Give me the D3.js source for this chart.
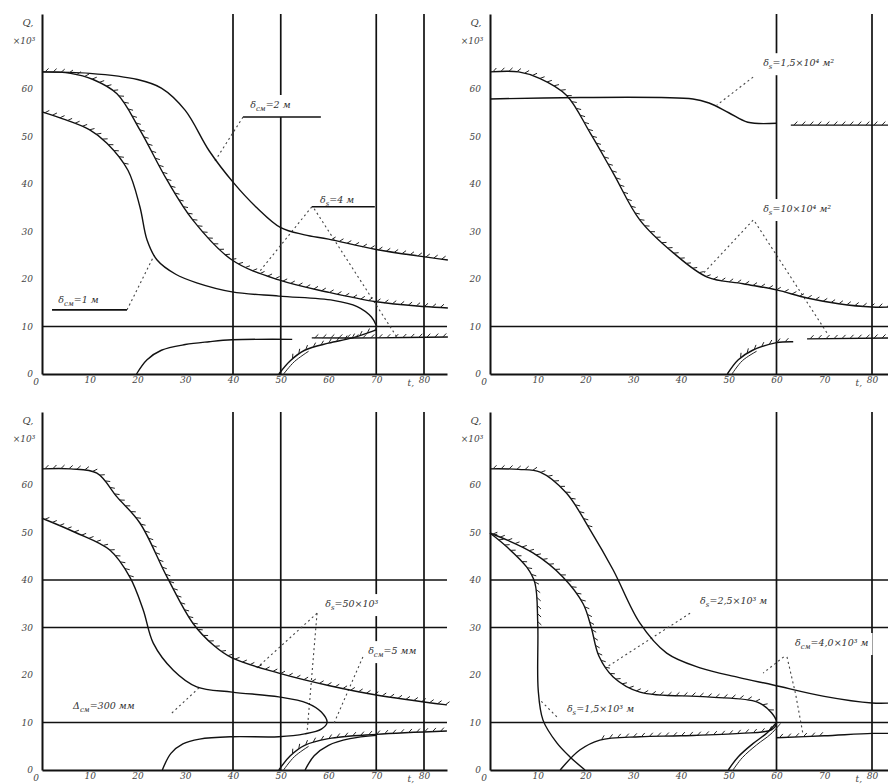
<!DOCTYPE html>
<html>
<head>
<meta charset="utf-8">
<script src="https://cdn.jsdelivr.net/npm/d3@7"></script>
<style>
  body { margin: 0; background: #fff; }
  svg { display: block; }
  text { font-family: "DejaVu Serif", serif; font-style: italic; fill: #333; }
</style>
</head>
<body>
<svg id="chart"></svg>
<script>
const width = 888;
const height = 784;

// tick labels (shared by all four panels)
const xTickLabels = ["0", "10", "20", "30", "40", "50", "60", "70", "80"];
const yTickLabels = ["0", "10", "20", "30", "40", "50", "60"];

// panel 1 (top left)
const p1A = [[0,6.36],[1,6.33],[2,6.2],[2.5,6.02],[3,5.55],[3.5,4.7],[4,4.04],[4.5,3.5],[5,3.08],[5.5,2.93],[6,2.84],[7,2.62],[8.5,2.4]];
const p1B = [[0,6.36],[0.6,6.33],[1.07,6.2],[1.57,5.9],[2.05,5.14],[2.62,4.08],[3.16,3.24],[3.98,2.4],[4.96,1.98],[6,1.72],[7,1.52],[8,1.42],[8.5,1.39]];
const p1C = [[0,5.52],[0.5,5.35],[1,5.14],[1.36,4.86],[1.8,4.29],[2.05,3.52],[2.2,2.82],[2.41,2.4],[2.8,2.1],[3.24,1.92],[3.98,1.73],[4.96,1.64],[6.1,1.55],[6.6,1.42],[6.9,1.2],[7,1.02]];
const p1D = [[1.98,0],[2.2,0.3],[2.5,0.5],[3,0.62],[3.5,0.68],[3.98,0.72],[5.24,0.73]];
const p1E = [[4.96,0],[5.2,0.28],[5.5,0.5],[6,0.65],[6.5,0.76],[7,0.93]];
const p1F = [[5.65,0.76],[7,0.76],[8.5,0.78]];

// panel 2 (top right)
const p2G = [[0,6.36],[0.6,6.36],[1.05,6.22],[1.6,5.87],[2.1,5.07],[2.58,4.23],[3.14,3.24],[3.84,2.55],[4.55,2.04],[5.3,1.9],[6,1.77],[6.64,1.6],[7.3,1.48],[8,1.41],[8.4,1.41]];
const p2H = [[0,5.79],[4.25,5.79],[4.6,5.7],[5,5.5],[5.4,5.3],[6,5.28]];
const p2H2 = [[6.3,5.24],[8.4,5.24]];
const p2I = [[4.97,0],[5.2,0.3],[5.5,0.5],[6,0.66],[6.35,0.68]];
const p2I2 = [[6.64,0.74],[8.4,0.76]];

// panel 3 (bottom left)
const p3J = [[0,6.34],[0.6,6.34],[1.15,6.25],[1.57,5.75],[2.05,5.2],[2.62,4.06],[3.16,3.09],[3.6,2.62],[3.98,2.36],[4.96,2.04],[6,1.78],[7,1.58],[8.48,1.37]];
const p3K = [[0,5.3],[0.7,5.0],[1.42,4.63],[1.84,4.06],[2.12,3.37],[2.33,2.67],[2.75,2.1],[3.24,1.75],[3.98,1.64],[4.96,1.54],[5.55,1.41],[5.85,1.22],[5.97,1.0],[5.85,0.86],[5.5,0.76],[4.96,0.7],[3.98,0.7],[3.3,0.65],[2.95,0.55],[2.7,0.35],[2.52,0]];
const p3M = [[4.96,0],[5.2,0.3],[5.5,0.52],[6,0.66],[7,0.75],[8.48,0.82]];
const p3N = [[5.51,0],[5.7,0.3],[6,0.52],[6.45,0.66],[7,0.73]];

// panel 4 (bottom right)
const p4P = [[0,6.34],[0.6,6.33],[1.05,6.27],[1.6,5.83],[2.1,5.05],[2.58,4.21],[3.14,3.09],[3.7,2.46],[4.4,2.15],[5.2,1.95],[5.93,1.79],[7,1.55],[8,1.41],[8.4,1.41]];
const p4Q = [[0,4.99],[0.9,4.57],[1.53,4.06],[1.95,3.5],[2.12,3.0],[2.28,2.4],[2.58,1.96],[3.14,1.64],[4.55,1.54],[5.6,1.43],[5.9,1.2],[6,1.0],[5.9,0.85],[5.24,0.77],[4,0.72],[3.14,0.7],[2.3,0.63],[1.88,0.42],[1.47,0]];
const p4S = [[0,4.99],[0.35,4.7],[0.77,4.27],[0.94,3.94],[1.0,3.09],[1.01,1.68],[1.11,1.05],[1.4,0.57],[1.67,0.28],[1.99,0]];
const p4T = [[4.99,0],[5.2,0.28],[5.5,0.55],[5.8,0.78],[6,1.0]];
const p4U = [[6,0.68],[7,0.72],[8,0.77],[8.4,0.77]];

const stepX = 47.75, stepY = 47.5;

// hatch: [fromIndex, toIndex, side]
const panels = [
  { ox: 42, oy: 374, top: 14, right: 447, vLines: [4, 5, 7, 8], hLines: [1],
    curves: [
      { pts: p1A, hatch: [[10, 12, 1]] },
      { pts: p1B, hatch: [[0, 12, 1]] },
      { pts: p1C, hatch: [[0, 4, 1]] },
      { pts: p1D },
      { pts: p1E, hatch: [[1, 5, 1]], double: 2 },
      { pts: p1F, hatch: [[0, 2, 1]] }
    ],
    notes: [
      { t: ["δ", "см", "=2 м"], at: [4.36, 5.6], under: [4.21, 5.84, 5.41], leaders: [[[4.21, 5.41], [3.6, 4.45]]] },
      { t: ["δ", "s", "=4 м"], at: [5.82, 3.6], under: [5.65, 6.97, 3.52], leaders: [[[5.65, 3.52], [4.55, 2.15]], [[5.7, 3.48], [7.43, 0.78]]] },
      { t: ["δ", "см", "=1 м"], at: [0.34, 1.49], under: [0.21, 1.78, 1.35], leaders: [[[1.78, 1.35], [2.35, 2.5]]] }
    ] },
  { ox: 490, oy: 374, top: 14, right: 888, vLines: [6, 8], hLines: [1],
    curves: [
      { pts: p2G, hatch: [[0, 14, 1]] },
      { pts: p2H },
      { pts: p2H2, hatch: [[0, 1, 1]] },
      { pts: p2I, hatch: [[1, 4, 1]], double: 2 },
      { pts: p2I2, hatch: [[0, 1, 1]] }
    ],
    notes: [
      { t: ["δ", "s", "=1,5×10⁴ м²"], at: [5.72, 6.48], leaders: [[[5.51, 6.25], [4.75, 5.66]]] },
      { t: ["δ", "s", "=10×10⁴ м²"], at: [5.72, 3.41], leaders: [[[5.51, 3.24], [4.45, 2.1]], [[5.55, 3.2], [7.06, 0.86]]] }
    ] },
  { ox: 42, oy: 770, top: 412, right: 447, vLines: [4, 5, 7, 8], hLines: [1, 3, 4],
    curves: [
      { pts: p3J, hatch: [[0, 12, 1]] },
      { pts: p3K, hatch: [[0, 3, 1]] },
      { pts: p3M, hatch: [[1, 5, 1]], double: 2 },
      { pts: p3N }
    ],
    notes: [
      { t: ["Δ", "см", "=300 мм"], at: [0.65, 1.28], leaders: [[[2.72, 1.2], [3.31, 1.75]]] },
      { t: ["δ", "s", "=50×10³"], at: [5.93, 3.43], leaders: [[[5.76, 3.3], [4.5, 2.15]], [[5.76, 3.3], [5.55, 0.78]]] },
      { t: ["δ", "см", "=5 мм"], at: [6.83, 2.44], leaders: [[[6.72, 2.38], [6.1, 0.95]]] }
    ] },
  { ox: 490, oy: 770, top: 412, right: 888, vLines: [6, 8], hLines: [1, 3, 4],
    curves: [
      { pts: p4P, hatch: [[0, 4, 1]] },
      { pts: p4Q, hatch: [[0, 10, 1], [12, 16, -1]] },
      { pts: p4S, hatch: [[0, 4, 1]] },
      { pts: p4T, double: 4 },
      { pts: p4U, hatch: [[0, 1, 1]] }
    ],
    notes: [
      { t: ["δ", "s", "=2,5×10³ м"], at: [4.4, 3.49], leaders: [[[4.19, 3.3], [2.45, 2.17]]] },
      { t: ["δ", "см", "=4,0×10³ м"], at: [6.39, 2.61], leaders: [[[6.22, 2.38], [6.4, 1.6], [6.55, 0.78]], [[6.15, 2.38], [5.72, 2.04]]] },
      { t: ["δ", "s", "=1,5×10³ м"], at: [1.61, 1.22], leaders: [[[1.4, 1.12], [1.05, 1.47]]] }
    ] }
];

const svg = d3.select('#chart').attr('width', width).attr('height', height);

panels.forEach(drawPanel);

function drawPanel(p) {
  const g = svg.append('g');
  const x = d3.scaleLinear().domain([0, (p.right - p.ox) / stepX]).range([p.ox, p.right]);
  const y = d3.scaleLinear().domain([0, (p.oy - p.top) / stepY]).range([p.oy, p.top]);
  const line = d3.line().x(d => x(d[0])).y(d => y(d[1])).curve(d3.curveCatmullRom.alpha(0.5));
  const straight = d3.line().x(d => x(d[0])).y(d => y(d[1]));

  // reference lines
  g.selectAll('.vl').data(p.vLines).enter().append('line')
    .attr('x1', d => x(d)).attr('x2', d => x(d))
    .attr('y1', y.range()[1]).attr('y2', y.range()[0])
    .style('stroke', '#111').style('stroke-width', 1.7);
  g.selectAll('.hl').data(p.hLines).enter().append('line')
    .attr('x1', x.range()[0]).attr('x2', x.range()[1])
    .attr('y1', d => y(d)).attr('y2', d => y(d))
    .style('stroke', '#111').style('stroke-width', 1.7);

  // axes
  const ax = g.append('g').attr('transform', `translate(0,${p.oy})`)
    .call(d3.axisBottom(x).tickValues(d3.range(9)).tickSize(0).tickSizeOuter(0).tickPadding(3)
      .tickFormat(i => i === 0 ? "" : xTickLabels[i]));
  const ay = g.append('g').attr('transform', `translate(${p.ox},0)`)
    .call(d3.axisLeft(y).tickValues(d3.range(7)).tickSize(0).tickSizeOuter(0).tickPadding(9)
      .tickFormat(i => yTickLabels[i]));
  [ax, ay].forEach(a => {
    a.select('.domain').style('stroke', '#111').style('stroke-width', 2);
    a.selectAll('text').style('font-family', '"DejaVu Serif", serif').style('font-style', 'italic')
      .style('font-size', '9px').style('fill', '#444');
  });
  g.append('text').attr('x', p.ox - 6).attr('y', p.oy + 11).attr('text-anchor', 'middle')
    .style('font-size', '9px').style('fill', '#444').text(xTickLabels[0]);
  g.append('text').attr('x', x(8) - 10).attr('y', p.oy + 12).attr('text-anchor', 'end')
    .style('font-size', '9px').style('fill', '#444').text('t,');
  g.append('text').attr('x', p.ox - 14).attr('y', p.top + 12).attr('text-anchor', 'middle')
    .style('font-size', '10px').style('fill', '#444').text('Q,');
  g.append('text').attr('x', p.ox - 18).attr('y', p.top + 30).attr('text-anchor', 'middle')
    .style('font-size', '9px').style('fill', '#444').text('×10³');

  // annotation boxes and texts
  p.notes.forEach(n => {
    const t = g.append('text').attr('x', x(n.at[0])).attr('y', y(n.at[1])).style('font-size', '9.5px');
    t.append('tspan').text(n.t[0]);
    t.append('tspan').attr('dy', 3).style('font-size', '7px').text(n.t[1]);
    t.append('tspan').attr('dy', -3).text(n.t[2]);
    const bb = t.node().getBBox();
    g.insert('rect', () => t.node())
      .attr('x', bb.x - 4).attr('y', bb.y - 4).attr('width', bb.width + 8).attr('height', bb.height + 8)
      .style('fill', '#fff');
    if (n.under) {
      g.append('line').attr('x1', x(n.under[0])).attr('x2', x(n.under[1]))
        .attr('y1', y(n.under[2])).attr('y2', y(n.under[2]))
        .style('stroke', '#111').style('stroke-width', 1.6);
    }
    n.leaders.forEach(l => {
      g.append('path').attr('d', straight(l))
        .style('fill', 'none').style('stroke', '#444').style('stroke-width', 1.1)
        .style('stroke-dasharray', '2,3');
    });
  });

  // curves
  p.curves.forEach(c => {
    const path = g.append('path').attr('d', line(c.pts))
      .style('fill', 'none').style('stroke', '#111').style('stroke-width', 1.4);
    if (c.double) {
      g.append('path').attr('d', line(c.pts.slice(0, c.double + 1)))
        .attr('transform', 'translate(4,1)')
        .style('fill', 'none').style('stroke', '#222').style('stroke-width', 1);
    }
    (c.hatch || []).forEach(h => drawHatch(g, path.node(), c.pts, line, h));
  });
}

function lengthTo(pts, line, i) {
  if (i <= 0) return 0;
  const tmp = svg.append('path').attr('d', line(pts.slice(0, i + 1)));
  const L = tmp.node().getTotalLength();
  tmp.remove();
  return L;
}

function drawHatch(g, node, pts, line, h) {
  const L = node.getTotalLength();
  const s0 = lengthTo(pts, line, h[0]);
  const s1 = Math.min(L, lengthTo(pts, line, h[1]));
  const side = h[2];
  for (let s = s0 + 3; s < s1 - 1; s += 8) {
    const a = node.getPointAtLength(s);
    const b = node.getPointAtLength(Math.min(L, s + 1));
    let tx = b.x - a.x, ty = b.y - a.y;
    const m = Math.hypot(tx, ty) || 1;
    tx /= m; ty /= m;
    const nx = ty * side, ny = -tx * side;
    let dx = nx + tx * side, dy = ny + ty * side;
    const k = Math.hypot(dx, dy) || 1;
    dx /= k; dy /= k;
    g.append('line')
      .attr('x1', a.x).attr('y1', a.y)
      .attr('x2', a.x + dx * 5).attr('y2', a.y + dy * 5)
      .style('stroke', '#222').style('stroke-width', 1);
  }
}
</script>
</body>
</html>
